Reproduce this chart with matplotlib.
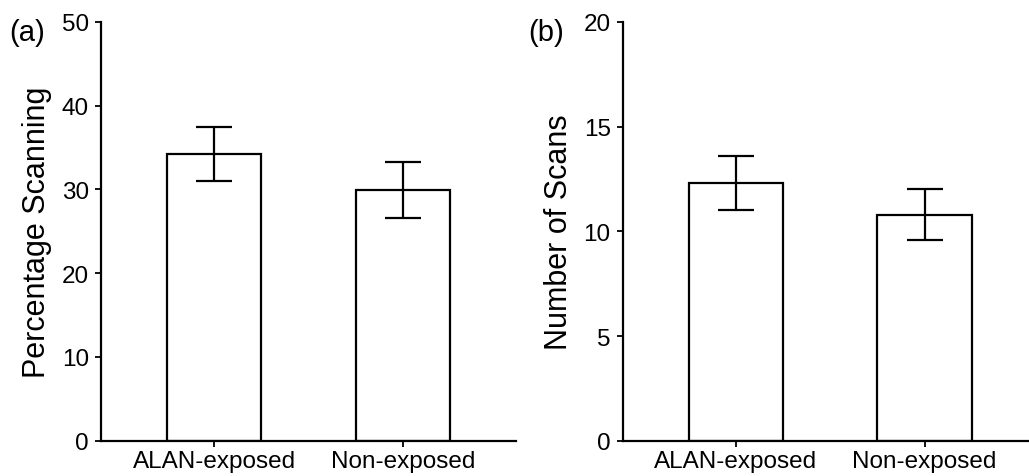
import matplotlib.pyplot as plt

plt.rcParams['font.family'] = ['Liberation Sans', 'DejaVu Sans']

groups = ["ALAN-exposed", "Non-exposed"]

# percentage of time spent scanning
pct_mean = [34.25, 29.95]
pct_err = [3.25, 3.35]

# number of scans
scan_mean = [12.3, 10.8]
scan_err = [1.28, 1.2]

fig = plt.figure(figsize=(10.29, 4.77), dpi=100)
ax1 = fig.add_axes([0.098, 0.074, 0.4035, 0.878])
ax2 = fig.add_axes([0.605, 0.074, 0.4035, 0.878])

def panel(ax, mean, err, ymax, step, ylab, tag, tagx):
    x = range(len(groups))
    ax.bar(x, mean, width=0.5, color='white', edgecolor='black', linewidth=1.6, zorder=2)
    ax.errorbar(x, mean, yerr=err, fmt='none', ecolor='black', elinewidth=1.6,
                capsize=13.3, capthick=1.6, zorder=3)
    ax.set_xlim(-0.6, 1.6)
    ax.set_ylim(0, ymax)
    ax.set_yticks(range(0, ymax + 1, step))
    ax.set_xticks(list(x))
    ax.set_xticklabels(groups)
    for s in ['top', 'right']:
        ax.spines[s].set_visible(False)
    for s in ['left', 'bottom']:
        ax.spines[s].set_linewidth(1.6)
    ax.tick_params(axis='both', direction='out', length=4.5, width=1.3, labelsize=17.5, pad=4)
    ax.tick_params(axis='x', pad=2)
    ax.set_ylabel(ylab, fontsize=22, labelpad=7)
    fig.text(tagx, 0.931, tag, fontsize=21, ha='left', va='center')

panel(ax1, pct_mean, pct_err, 50, 10, "Percentage Scanning", "(a)", 0.009)
panel(ax2, scan_mean, scan_err, 20, 5, "Number of Scans", "(b)", 0.513)

plt.savefig('out.png', dpi=100)
